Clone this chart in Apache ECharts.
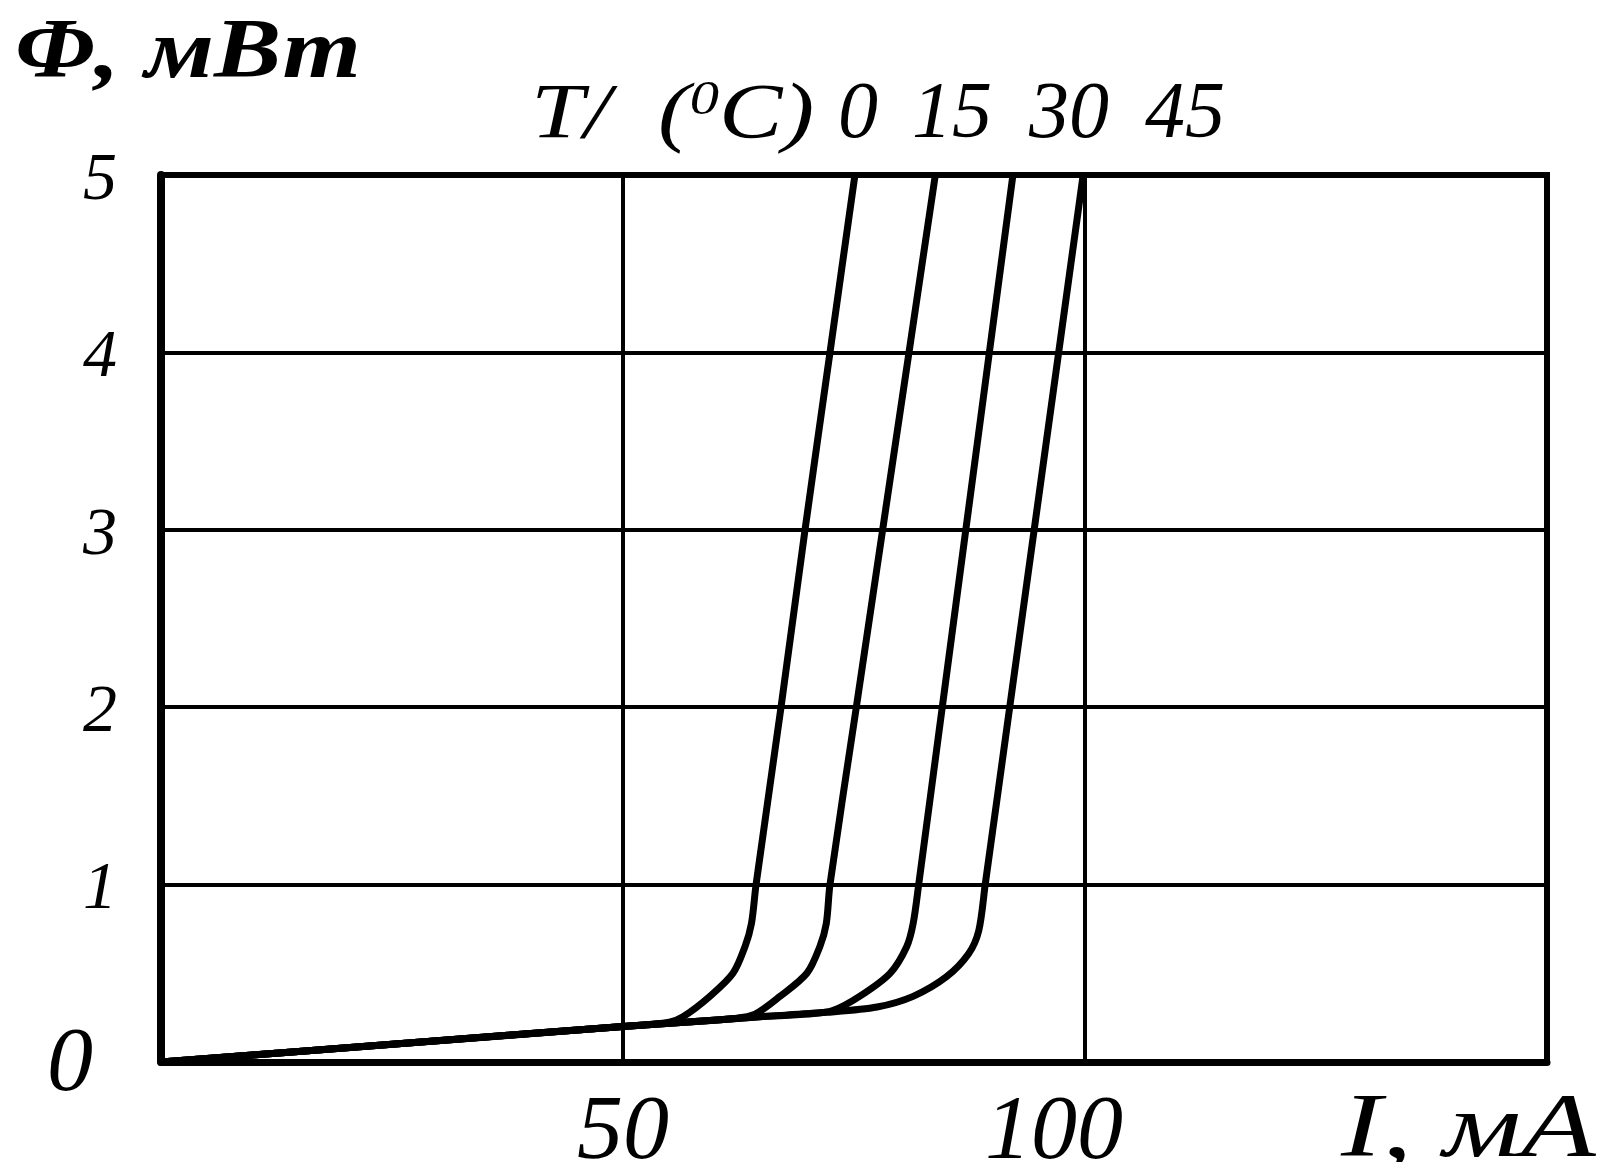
<!DOCTYPE html>
<html>
<head>
<meta charset="utf-8">
<script src="https://cdn.jsdelivr.net/npm/echarts@6/dist/echarts.min.js"></script>
<style>
  html, body { margin: 0; padding: 0; background: #fff; }
  #chart { width: 1618px; height: 1162px; }
</style>
</head>
<body>
<div id="chart"></div>
<script>
// Optical power Φ (mW) vs. drive current I (mA) of a laser diode at several temperatures
const temperatures = ['0', '15', '30', '45'];
const currentTicks = [0, 50, 100, 150];
const powerTicks = [0, 1, 2, 3, 4, 5];

const curveT0 = [[0, 0], [25, 0.1], [50, 0.2], [55, 0.225], [56.5, 0.255], [59.4, 0.37], [61.9, 0.5],
  [63.2, 0.65], [63.9, 0.78], [64.4, 1], [67.1, 2], [69.7, 3], [72.4, 4], [75.1, 5]];
const curveT15 = [[0, 0], [25, 0.1], [50, 0.2], [57, 0.225], [62, 0.245], [64.3, 0.27], [67, 0.37],
  [69.9, 0.5], [71.3, 0.65], [72, 0.78], [72.4, 1], [75.25, 2], [78.1, 3], [80.95, 4], [83.8, 5]];
const curveT30 = [[0, 0], [25, 0.1], [50, 0.2], [57, 0.225], [64.8, 0.255], [70, 0.27], [72.7, 0.29],
  [75.6, 0.37], [78.9, 0.5], [80.7, 0.65], [81.4, 0.78], [82, 1], [84.55, 2], [87.1, 3], [89.65, 4], [92.2, 5]];
const curveT45 = [[0, 0], [25, 0.1], [50, 0.2], [57, 0.225], [64.8, 0.255], [72, 0.28], [77.5, 0.31],
  [81.4, 0.37], [85, 0.48], [87.4, 0.61], [88.5, 0.74], [89.2, 1], [91.85, 2], [94.5, 3], [97.15, 4], [99.8, 5]];
const curves = [curveT0, curveT15, curveT30, curveT45];

const serif = '"Liberation Serif", "DejaVu Serif", serif';
const chart = echarts.init(document.getElementById('chart'), null, { renderer: 'canvas' });

// caption text with horizontal stretch, anchored at its left edge / vertical middle
function caption(text, x, y, font, sx, rich) {
  return {
    type: 'text', x: x, y: y, scaleX: sx, z: 10,
    style: { text: text, font: font, fill: '#000', align: 'left', verticalAlign: 'middle', rich: rich }
  };
}

chart.setOption({
  backgroundColor: '#fff',
  animation: false,
  grid: {
    left: 161, right: 71, top: 175, bottom: 100,
    outerBoundsMode: 'none', containLabel: false,
    show: true, borderColor: '#000', borderWidth: 6, backgroundColor: 'transparent'
  },
  xAxis: {
    type: 'value',
    min: currentTicks[0], max: currentTicks[currentTicks.length - 1], interval: 50,
    axisLine: { show: true, lineStyle: { color: '#000', width: 7 } },
    axisTick: { show: false },
    splitLine: { show: true, lineStyle: { color: '#000', width: 4 } },
    axisLabel: {
      margin: 26,
      color: '#000',
      formatter: v => v === 50 ? '{a|50}' : (v === 100 ? '{b|100}' : ''),
      rich: {
        a: { fontFamily: serif, fontStyle: 'italic', fontSize: 92, color: '#000' },
        b: { fontFamily: serif, fontStyle: 'italic', fontSize: 92, color: '#000', padding: [0, 62, 0, 0] }
      }
    }
  },
  yAxis: {
    type: 'value',
    min: powerTicks[0], max: powerTicks[powerTicks.length - 1], interval: 1,
    axisLine: { show: true, lineStyle: { color: '#000', width: 8 } },
    axisTick: { show: false },
    splitLine: { show: true, lineStyle: { color: '#000', width: 4 } },
    axisLabel: {
      margin: 44,
      color: '#000',
      formatter: v => v === 0 ? '{z|0}' : '{n|' + v + '}',
      rich: {
        n: { fontFamily: serif, fontStyle: 'italic', fontSize: 68, color: '#000', padding: [12, 0, 0, 0] },
        z: { fontFamily: serif, fontStyle: 'italic', fontSize: 92, color: '#000', padding: [8, 24, 0, 0] }
      }
    }
  },
  graphic: [
    caption('Φ, мВт', 15, 55, 'italic bold 84px ' + serif, 1.2),
    caption('T/  ({s|0}C)', 531, 116, 'italic 78px ' + serif, 1.22,
      { s: { font: 'italic 48px ' + serif, verticalAlign: 'top', fill: '#000' } }),
    ...temperatures.map((t, i) => ({
      type: 'text', z: 10,
      x: [858, 952, 1069, 1185][i], y: 116,
      style: { text: t, font: 'italic 80px ' + serif, fill: '#000', align: 'center', verticalAlign: 'middle' }
    })),
    caption('I, мА', 1341, 1132, 'italic 90px ' + serif, 1.36)
  ],
  series: curves.map((c, i) => ({
    type: 'line',
    name: temperatures[i] + ' °C',
    data: c,
    smooth: 0.3,
    showSymbol: false,
    clip: true,
    lineStyle: { color: '#000', width: 7 },
    z: 5
  }))
});
</script>
</body>
</html>
